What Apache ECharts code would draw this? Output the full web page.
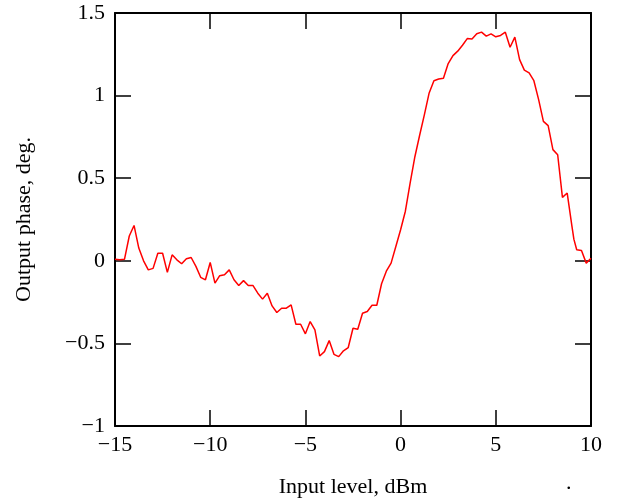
<!DOCTYPE html>
<html>
<head>
<meta charset="utf-8">
<script src="https://cdn.jsdelivr.net/npm/echarts@6/dist/echarts.min.js"></script>
<style>
  html, body { margin: 0; padding: 0; background: #fff; }
  #chart { width: 618px; height: 503px; }
</style>
</head>
<body>
<div id="chart"></div>
<script>
var inputLevel = [
  -15, -14.75, -14.5, -14.25, -14, -13.75, -13.5, -13.25, -13, -12.75,
  -12.5, -12.25, -12, -11.75, -11.5, -11.25, -11, -10.75, -10.5, -10.25,
  -10, -9.75, -9.5, -9.25, -9, -8.75, -8.5, -8.25, -8, -7.75,
  -7.5, -7.25, -7, -6.75, -6.5, -6.25, -6, -5.75, -5.5, -5.25,
  -5, -4.75, -4.5, -4.25, -4, -3.75, -3.5, -3.25, -3, -2.75,
  -2.5, -2.25, -2, -1.75, -1.5, -1.25, -1, -0.75, -0.5, -0.25,
  0, 0.25, 0.5, 0.75, 1, 1.25, 1.5, 1.75, 2, 2.25,
  2.5, 2.75, 3, 3.25, 3.5, 3.75, 4, 4.25, 4.5, 4.75,
  5, 5.25, 5.5, 5.75, 6, 6.25, 6.5, 6.75, 7, 7.25,
  7.5, 7.75, 8, 8.25, 8.5, 8.75, 9, 9.1, 9.25, 9.5,
  9.75, 10
];
var outputPhase = [
  0.01, 0.006, 0.01, 0.15, 0.214, 0.077, 0.0, -0.055, -0.046, 0.046,
  0.046, -0.07, 0.036, 0.006, -0.018, 0.012, 0.02, -0.034, -0.10, -0.115,
  -0.01, -0.135, -0.09, -0.085, -0.055, -0.115, -0.15, -0.12, -0.15, -0.15,
  -0.196, -0.232, -0.196, -0.273, -0.313, -0.287, -0.287, -0.267, -0.384, -0.384,
  -0.442, -0.368, -0.418, -0.576, -0.55, -0.483, -0.566, -0.58, -0.545, -0.525,
  -0.408, -0.414, -0.317, -0.307, -0.269, -0.269, -0.139, -0.063, -0.014, 0.087,
  0.188, 0.30, 0.47, 0.63, 0.76, 0.885, 1.016, 1.09, 1.10, 1.105,
  1.194, 1.242, 1.269, 1.305, 1.345, 1.343, 1.374, 1.384, 1.36, 1.374,
  1.356, 1.364, 1.384, 1.293, 1.354, 1.218, 1.154, 1.137, 1.09, 0.976,
  0.844, 0.818, 0.673, 0.642, 0.384, 0.41, 0.208, 0.131, 0.067, 0.063,
  -0.014, 0.016
];

var X_MIN = -15, X_MAX = 10, X_STEP = 5;
var Y_MIN = -1, Y_MAX = 1.5, Y_STEP = 0.5;

var FONT = 'Liberation Serif';
var FONT_SIZE = 22;

// tick labels use a real minus sign
function fmt(v) {
  return String(v).replace('-', '\u2212');
}

var chart = echarts.init(document.getElementById('chart'));

var tickStyle = { show: true, inside: true, length: 16, lineStyle: { color: '#000', width: 1.5 } };
var lineStyle = { show: true, onZero: false, lineStyle: { color: '#000', width: 2 } };

chart.setOption({
  animation: false,
  backgroundColor: '#fff',
  grid: { left: 115, right: 27, top: 13, bottom: 77 },
  xAxis: [{
    type: 'value',
    min: X_MIN, max: X_MAX, interval: X_STEP,
    axisLine: lineStyle,
    axisTick: tickStyle,
    splitLine: { show: false },
    axisLabel: { color: '#000', fontFamily: FONT, fontSize: FONT_SIZE, margin: 8, formatter: fmt },
    name: 'Input level, dBm',
    nameLocation: 'middle',
    nameGap: 50,
    nameTextStyle: { color: '#000', fontFamily: FONT, fontSize: FONT_SIZE }
  }, {
    type: 'value', position: 'top',
    min: X_MIN, max: X_MAX, interval: X_STEP,
    axisLine: lineStyle,
    axisTick: tickStyle,
    axisLabel: { show: false },
    splitLine: { show: false }
  }],
  yAxis: [{
    type: 'value',
    min: Y_MIN, max: Y_MAX, interval: Y_STEP,
    axisLine: lineStyle,
    axisTick: tickStyle,
    splitLine: { show: false },
    axisLabel: { color: '#000', fontFamily: FONT, fontSize: FONT_SIZE, margin: 10, formatter: fmt, padding: [10, 0, 0, 0] },
    name: 'Output phase, deg.',
    nameLocation: 'middle',
    nameGap: 80,
    nameTextStyle: { color: '#000', fontFamily: FONT, fontSize: FONT_SIZE }
  }, {
    type: 'value', position: 'right',
    min: Y_MIN, max: Y_MAX, interval: Y_STEP,
    axisLine: lineStyle,
    axisTick: tickStyle,
    axisLabel: { show: false },
    splitLine: { show: false }
  }],
  graphic: [{
    type: 'text',
    left: 566, top: 472,
    style: { text: '.', fill: '#000', font: '22px "Liberation Serif"' }
  }],
  series: [{
    type: 'line',
    data: inputLevel.map(function (x, i) { return [x, outputPhase[i]]; }),
    showSymbol: false,
    symbol: 'none',
    lineStyle: { color: '#ff0000', width: 1.5 },
    z: 1
  }]
});
</script>
</body>
</html>
